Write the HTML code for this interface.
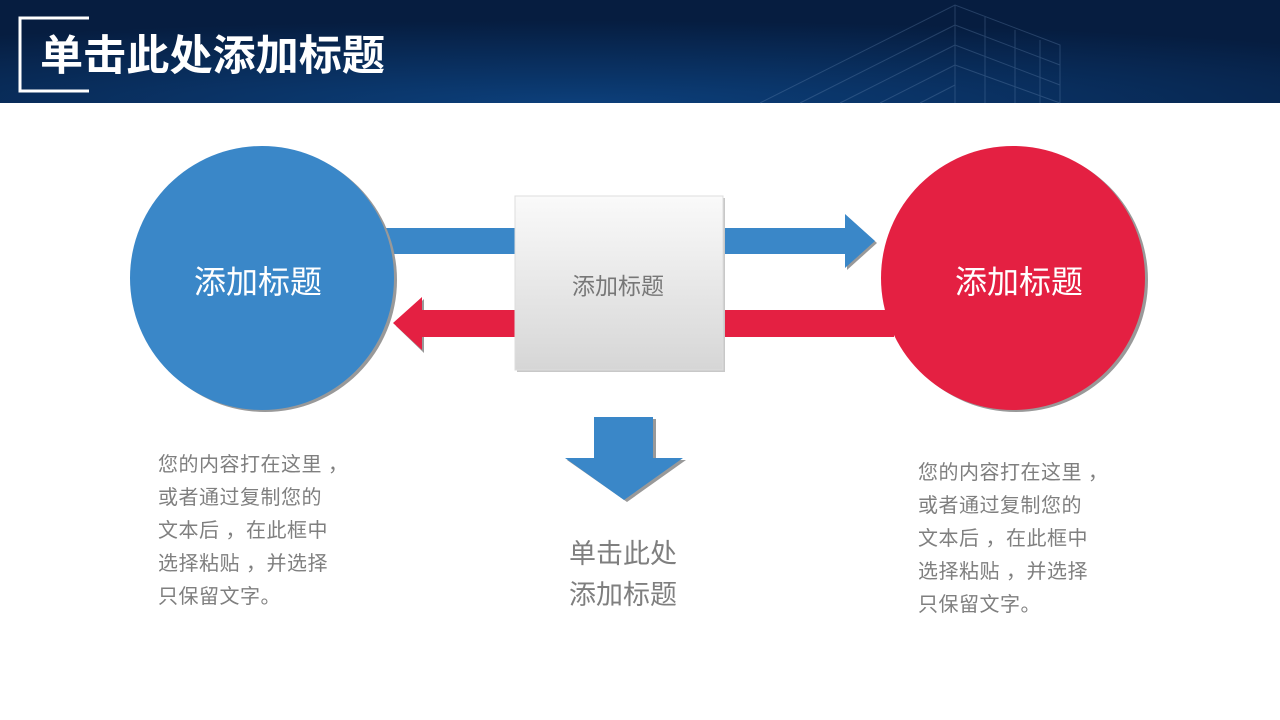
<!DOCTYPE html>
<html><head><meta charset="utf-8"><style>
body{margin:0;width:1280px;height:720px;overflow:hidden;background:#fff;font-family:"Liberation Sans","Noto Sans CJK SC",sans-serif;}
</style></head><body>
<svg width="1280" height="720" viewBox="0 0 1280 720" xmlns="http://www.w3.org/2000/svg" style="position:absolute;left:0;top:0">
<defs>
<radialGradient id="hd" cx="0.45" cy="1" r="0.8">
<stop offset="0" stop-color="#0c3f7a"/><stop offset="1" stop-color="#061d40"/>
</radialGradient>
<linearGradient id="bx" x1="0" y1="0" x2="0" y2="1">
<stop offset="0" stop-color="#fafafa"/><stop offset="1" stop-color="#d6d6d6"/>
</linearGradient>
</defs>
<rect x="0" y="0" width="1280" height="103" fill="url(#hd)"/>
<g stroke="#6d8fb8" stroke-width="1" fill="none" opacity="0.3">
<path d="M760 103 L955 5 L1060 45 L1060 103"/>
<path d="M955 5 L955 103 M985 17 L985 103 M1015 30 L1015 103 M1040 40 L1040 103"/>
<path d="M800 103 L955 25 M840 103 L955 45 M880 103 L955 65 M920 103 L955 85"/>
<path d="M955 25 L1060 65 M955 45 L1060 85 M955 65 L1060 103"/>
</g>
<path d="M89 18 H20 V91 H89" stroke="#fff" stroke-width="3" fill="none"/>
<text x="40" y="70" font-size="42" font-weight="bold" fill="#fff" textLength="345" lengthAdjust="spacingAndGlyphs">单击此处添加标题</text>

<rect x="385" y="228" width="132" height="26" fill="#3a87c8"/>
<circle cx="265" cy="280" r="132" fill="#999"/>
<circle cx="262" cy="278" r="132" fill="#3a87c8"/>
<circle cx="1016" cy="280" r="132" fill="#999"/>
<circle cx="1013" cy="278" r="132" fill="#e42042"/>
<rect x="722" y="310" width="172" height="27" fill="#e42042"/>
<polygon points="847,216 877,243 847,270" fill="#999"/>
<polygon points="723,228 845,228 845,214 875,241 845,268 845,254 723,254" fill="#3a87c8"/>
<polygon points="424,299 424,353 396,326" fill="#999"/>
<polygon points="517,310 422,310 422,297 393,323 422,350 422,337 517,337" fill="#e42042"/>
<rect x="517" y="198" width="208" height="174" fill="#c8c8c8"/>
<rect x="515" y="196" width="208" height="174" fill="url(#bx)" stroke="#ddd" stroke-width="1"/>
<text x="618" y="294" font-size="23" fill="#777" text-anchor="middle">添加标题</text>
<polygon points="597,419 656,419 656,460 686,460 627,502 567,460 597,460" fill="#999"/>
<polygon points="594,417 653,417 653,458 683,458 624,500 565,458 594,458" fill="#3a87c8"/>
<text x="258" y="293" font-size="32" fill="#fff" text-anchor="middle">添加标题</text>
<text x="1019" y="293" font-size="32" fill="#fff" text-anchor="middle">添加标题</text>
<g font-size="20" fill="#7f7f7f" letter-spacing="0.5">
<text x="158" y="471">您的内容打在这里 ，</text>
<text x="158" y="504">或者通过复制您的</text>
<text x="158" y="537">文本后 ，在此框中</text>
<text x="158" y="570">选择粘贴 ，并选择</text>
<text x="158" y="603">只保留文字。</text>
<text x="918" y="479">您的内容打在这里 ，</text>
<text x="918" y="512">或者通过复制您的</text>
<text x="918" y="545">文本后 ，在此框中</text>
<text x="918" y="578">选择粘贴 ，并选择</text>
<text x="918" y="611">只保留文字。</text>
</g>
<g font-size="27" fill="#7f7f7f">
<text x="569" y="563">单击此处</text>
<text x="569" y="604">添加标题</text>
</g>
</svg>
</body></html>
